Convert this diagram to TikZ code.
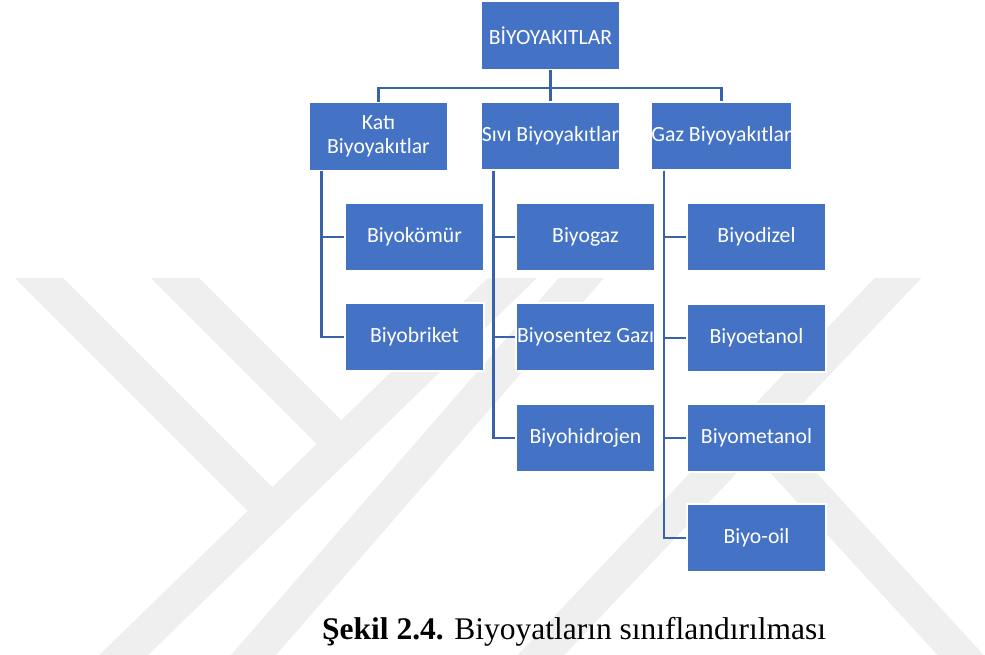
\documentclass[tikz,border=0pt]{standalone}
\usepackage{fontspec}
\setmainfont{Liberation Serif}
\newfontfamily\boxfont{Carlito}
\definecolor{boxblue}{HTML}{4472C4}
\definecolor{lineblue}{HTML}{3A62AA}
\definecolor{wm}{HTML}{EFEFEF}
\tikzset{
  box/.style={rectangle, fill=boxblue, draw=white, line width=1.2pt,
    minimum width=139pt, minimum height=68pt, inner sep=0pt, text=white,
    font=\boxfont\fontsize{21.7}{23.5}\selectfont, align=center},
  conn/.style={draw=lineblue, line width=2.6pt},
  band/.style={draw=wm, line width=34pt, line cap=butt},
  captxt/.style={anchor=base west, inner sep=0pt, font=\fontsize{31.5}{36}\selectfont}
}
\begin{document}
\begin{tikzpicture}[x=1pt,y=-1pt]
\useasboundingbox (0,0) rectangle (985,654);
\fill[white] (0,0) rectangle (985,654);
% watermark
\begin{scope}
  \clip (0,278) rectangle (985,654);
  \draw[band] (11,250) -- (272,511);
  \draw[band] (531,260) -- (104,674);
  \draw[band] (147,250) -- (341,444);
  \draw[band] (597,260) -- (237,674);
  \draw[band] (915,260) -- (523,674);
  \draw[band] (745,420) -- (978,674);
\end{scope}
% nodes
\node[box] (root) at (550.5,35.5) {BİYOYAKITLAR};
\node[box] (kati) at (378.5,136.5) {Katı\\Biyoyakıtlar};
\node[box] (sivi) at (550.5,136) {Sıvı Biyoyakıtlar};
\node[box] (gaz) at (721.5,136) {Gaz Biyoyakıtlar};
\node[box] (komur) at (414.5,237) {Biyokömür};
\node[box] (briket) at (414.5,337) {Biyobriket};
\node[box] (bgaz) at (585.5,237) {Biyogaz};
\node[box] (sentez) at (585.5,337) {Biyosentez Gazı};
\node[box] (hidro) at (585.5,438) {Biyohidrojen};
\node[box] (dizel) at (756.5,237) {Biyodizel};
\node[box] (etanol) at (756.5,338) {Biyoetanol};
\node[box] (metanol) at (756.5,438) {Biyometanol};
\node[box] (oil) at (756.5,538) {Biyo-oil};
% connectors
\draw[conn] (root.south) -- ++(0,18) -| (kati.north);
\draw[conn] (root.south) -- ++(0,18) -| (gaz.north);
\draw[conn] (root.south) -- (sivi.north);
\draw[conn] ([xshift=13pt]kati.south west) |- (komur.west);
\draw[conn] ([xshift=13pt]kati.south west) |- (briket.west);
\draw[conn] ([xshift=13pt]sivi.south west) |- (bgaz.west);
\draw[conn] ([xshift=13pt]sivi.south west) |- (sentez.west);
\draw[conn] ([xshift=13pt]sivi.south west) |- (hidro.west);
\draw[conn] ([xshift=13pt]gaz.south west) |- (dizel.west);
\draw[conn] ([xshift=13pt]gaz.south west) |- (etanol.west);
\draw[conn] ([xshift=13pt]gaz.south west) |- (metanol.west);
\draw[conn] ([xshift=13pt]gaz.south west) |- (oil.west);
% caption
\node[captxt] (cap) at (322,639) {\textbf{Şekil 2.4.} Biyoyatların sınıflandırılması};
\end{tikzpicture}
\end{document}
